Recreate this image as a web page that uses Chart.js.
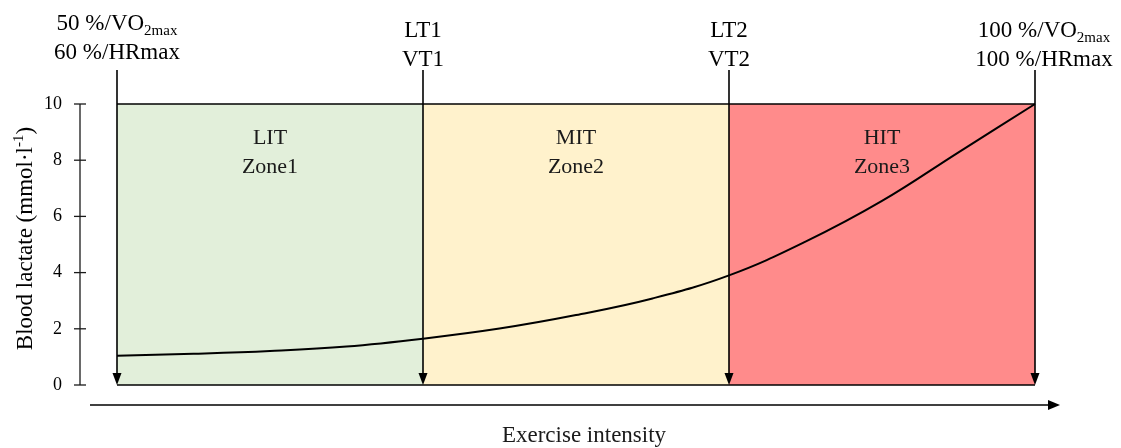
<!DOCTYPE html>
<html>
<head>
<meta charset="utf-8">
<title>Blood lactate and training zones</title>
<script src="https://cdn.jsdelivr.net/npm/chart.js@4.4.1/dist/chart.umd.min.js"></script>
<style>
  html, body { margin: 0; padding: 0; background: #ffffff; }
  #zones { display: block; }
</style>
</head>
<body>
<canvas id="zones" width="1121" height="448"></canvas>
<script>
// intensity runs 0..3, one unit per training zone
const zoneEdges = [0, 1, 2, 3];
const zoneNames = ['LIT', 'MIT', 'HIT'];
const zoneTitles = ['Zone1', 'Zone2', 'Zone3'];
const zoneColors = ['#e2efda', '#fff2cc', '#ff8b8b'];

// threshold labels above each edge ("_" starts a subscript)
const edgeTop = ['50 %/VO_2max', 'LT1', 'LT2', '100 %/VO_2max'];
const edgeBottom = ['60 %/HRmax', 'VT1', 'VT2', '100 %/HRmax'];

// lactate curve
const intensity = [0, 0.25, 0.5, 0.75, 1, 1.25, 1.5, 1.75, 2, 2.25, 2.5, 2.75, 3];
const lactate = [1.04, 1.11, 1.21, 1.37, 1.65, 2.01, 2.49, 3.08, 3.9, 5.1, 6.55, 8.28, 10];

const yTicks = [0, 2, 4, 6, 8, 10];
const yTitle = 'Blood lactate (mmol·l';
const yTitleSup = '-1';
const xTitle = 'Exercise intensity';

const SERIF = '"Liberation Serif", "Times New Roman", serif';

function drawRich(ctx, text, cx, baseline, size) {
    const [main, sub] = text.split('_');
    const subSize = Math.round(size * 0.66);
    ctx.font = size + 'px ' + SERIF;
    const w1 = ctx.measureText(main).width;
    ctx.font = subSize + 'px ' + SERIF;
    const w2 = sub ? ctx.measureText(sub).width : 0;
    let left = cx - (w1 + w2) / 2;
    ctx.textAlign = 'left';
    ctx.textBaseline = 'alphabetic';
    ctx.font = size + 'px ' + SERIF;
    ctx.fillText(main, left, baseline);
    if (sub) {
        ctx.font = subSize + 'px ' + SERIF;
        ctx.fillText(sub, left + w1, baseline + 5);
    }
}

function arrowHead(ctx, tx, ty, dx, dy, len, half) {
    // tip at (tx, ty), pointing along (dx, dy)
    const bx = tx - dx * len, by = ty - dy * len;
    ctx.beginPath();
    ctx.moveTo(tx, ty);
    ctx.lineTo(bx - dy * half, by + dx * half);
    ctx.lineTo(bx + dy * half, by - dx * half);
    ctx.closePath();
    ctx.fill();
}

const decorations = {
    id: 'decorations',
    afterDraw(chart) {
        const { ctx, chartArea: a, scales: { x, y } } = chart;
        const yBase = y.getPixelForValue(0);
        const yTop = y.getPixelForValue(10);
        ctx.save();
        ctx.strokeStyle = '#000';
        ctx.fillStyle = '#000';
        ctx.lineWidth = 1.6;

        // bottom edge of the zone box
        ctx.beginPath();
        ctx.moveTo(x.getPixelForValue(zoneEdges[0]), yBase);
        ctx.lineTo(x.getPixelForValue(zoneEdges[zoneEdges.length - 1]), yBase);
        ctx.stroke();

        // threshold arrows and their labels
        zoneEdges.forEach((e, i) => {
            const px = x.getPixelForValue(e);
            ctx.beginPath();
            ctx.moveTo(px, a.top - 34);
            ctx.lineTo(px, yBase - 10);
            ctx.stroke();
            arrowHead(ctx, px, yBase, 0, 1, 12, 4.5);

            const lift = i === 0 ? 7 : 0;
            const shift = i === zoneEdges.length - 1 ? 9 : 0;
            drawRich(ctx, edgeTop[i], px + shift, a.top - 67 - lift, 23);
            drawRich(ctx, edgeBottom[i], px + shift, a.top - 38 - lift, 23);
        });

        // zone names
        ctx.textAlign = 'center';
        ctx.textBaseline = 'alphabetic';
        ctx.font = '22px ' + SERIF;
        ctx.fillStyle = '#1a1a1a';
        zoneNames.forEach((n, i) => {
            const cx = x.getPixelForValue((zoneEdges[i] + zoneEdges[i + 1]) / 2);
            ctx.fillText(n, cx, yTop + 40);
            ctx.fillText(zoneTitles[i], cx, yTop + 69);
        });
        ctx.fillStyle = '#000';

        // lactate axis, drawn off to the left of the box
        const ax = a.left - 37;
        ctx.lineWidth = 1.3;
        ctx.strokeStyle = '#1a1a1a';
        ctx.beginPath();
        ctx.moveTo(ax, yBase);
        ctx.lineTo(ax, yTop);
        ctx.stroke();
        ctx.font = '18px ' + SERIF;
        ctx.textAlign = 'right';
        ctx.textBaseline = 'middle';
        yTicks.forEach(t => {
            const py = y.getPixelForValue(t);
            ctx.beginPath();
            ctx.moveTo(ax - 6, py);
            ctx.lineTo(ax + 6, py);
            ctx.stroke();
            ctx.fillText(String(t), ax - 18, py);
        });

        // rotated lactate title with superscript
        ctx.save();
        ctx.translate(a.left - 91, (yBase + yTop) / 2 - 6);
        ctx.rotate(-Math.PI / 2);
        ctx.textBaseline = 'middle';
        ctx.textAlign = 'left';
        ctx.font = '23px ' + SERIF;
        const w1 = ctx.measureText(yTitle).width;
        ctx.font = '15px ' + SERIF;
        const w2 = ctx.measureText(yTitleSup).width;
        ctx.font = '23px ' + SERIF;
        const w3 = ctx.measureText(')').width;
        let left = -(w1 + w2 + w3) / 2;
        ctx.fillText(yTitle, left, 0);
        ctx.font = '15px ' + SERIF;
        ctx.fillText(yTitleSup, left + w1, -7);
        ctx.font = '23px ' + SERIF;
        ctx.fillText(')', left + w1 + w2, 0);
        ctx.restore();

        // intensity arrow along the bottom
        const ay = yBase + 20;
        const xs = a.left - 27, xe = a.right + 25;
        ctx.strokeStyle = '#000';
        ctx.lineWidth = 1.5;
        ctx.beginPath();
        ctx.moveTo(xs, ay);
        ctx.lineTo(xe - 10, ay);
        ctx.stroke();
        arrowHead(ctx, xe, ay, 1, 0, 12, 5);

        ctx.font = '23px ' + SERIF;
        ctx.textAlign = 'center';
        ctx.textBaseline = 'alphabetic';
        ctx.fillStyle = '#1a1a1a';
        ctx.fillText(xTitle, (a.left + a.right) / 2 + 8, yBase + 57);
        ctx.restore();
    }
};

const zoneSets = zoneNames.map((n, i) => ({
    label: n,
    data: [{ x: zoneEdges[i], y: 10 }, { x: zoneEdges[i + 1], y: 10 }],
    fill: 'origin',
    backgroundColor: zoneColors[i],
    borderColor: '#000',
    borderWidth: 1.6,
    pointRadius: 0,
    clip: false,
    order: 1
}));

const curve = {
    label: 'Blood lactate',
    data: intensity.map((v, i) => ({ x: v, y: lactate[i] })),
    borderColor: '#000',
    borderWidth: 2,
    pointRadius: 0,
    fill: false,
    tension: 0.4,
    clip: false,
    order: 0
};

new Chart(document.getElementById('zones'), {
    type: 'line',
    data: { datasets: [curve, ...zoneSets] },
    options: {
        responsive: false,
        animation: false,
        layout: { padding: { left: 117, right: 86, top: 104, bottom: 63 } },
        scales: {
            x: { type: 'linear', min: 0, max: 3, display: false },
            y: { min: 0, max: 10, display: false }
        },
        plugins: {
            legend: { display: false },
            tooltip: { enabled: false }
        }
    },
    plugins: [decorations]
});
</script>
</body>
</html>
